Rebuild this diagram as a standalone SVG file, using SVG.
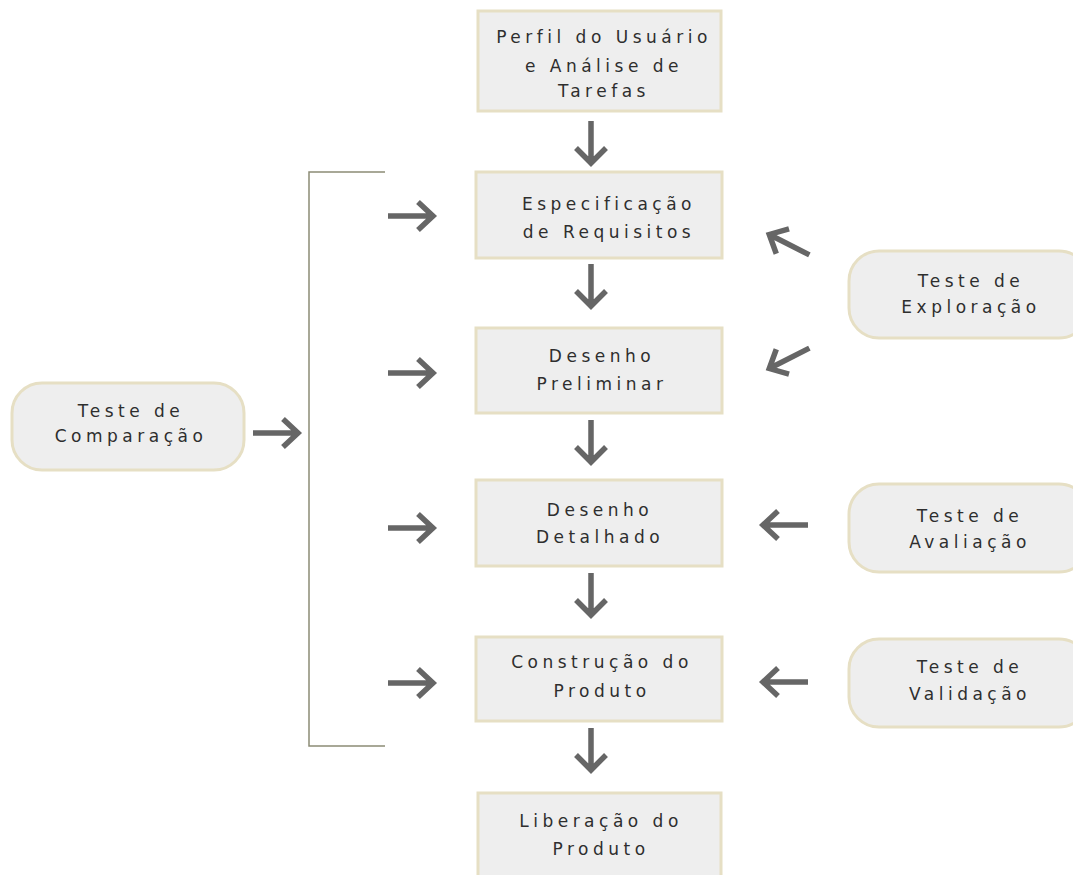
<svg xmlns="http://www.w3.org/2000/svg" width="1073" height="875" viewBox="0 0 1073 875">
<defs>
<style>
.box{fill:#eeeeee;stroke:#e6dfc4;stroke-width:3}
.t{font-family:"DejaVu Sans",sans-serif;font-size:17px;letter-spacing:4.5px;fill:#2e2e2e;text-anchor:middle}
.ar{fill:none;stroke:#666;stroke-width:5.5;stroke-linecap:butt;stroke-linejoin:miter}
.br{fill:none;stroke:#8c8c76;stroke-width:1.5}
</style>
<g id="arrowDown"><path class="ar" d="M0,-22 V20 M-15,5 L0,20 L15,5"/></g>
<g id="arrowRight"><path class="ar" d="M-24,0 H21 M6,-14 L21,0 L6,14"/></g>
<g id="arrowLeft"><path class="ar" d="M24,0 H-21 M-6,-14 L-21,0 L-6,14"/></g>
</defs>
<rect width="1073" height="875" fill="#ffffff"/>
<g id="n-perfil"><rect class="box" x="478" y="11" width="243" height="100"/>
<text class="t" x="604" y="43">Perfil do Usuário</text><text class="t" x="604" y="72">e Análise de</text><text class="t" x="604" y="97">Tarefas</text></g>
<g id="n-espec"><rect class="box" x="476" y="172" width="246" height="86"/>
<text class="t" x="609" y="210">Especificação</text><text class="t" x="609" y="238">de Requisitos</text></g>
<g id="n-prelim"><rect class="box" x="476" y="328" width="246" height="85"/>
<text class="t" x="602" y="362">Desenho</text><text class="t" x="602" y="390">Preliminar</text></g>
<g id="n-detal"><rect class="box" x="476" y="480" width="246" height="86"/>
<text class="t" x="600" y="516">Desenho</text><text class="t" x="600" y="543">Detalhado</text></g>
<g id="n-constr"><rect class="box" x="476" y="637" width="246" height="84"/>
<text class="t" x="602" y="668">Construção do</text><text class="t" x="602" y="697">Produto</text></g>
<g id="n-liber"><rect class="box" x="478" y="793" width="243" height="90"/>
<text class="t" x="601" y="827">Liberação do</text><text class="t" x="601" y="855">Produto</text></g>
<g id="n-comp"><rect class="box" x="12" y="383" width="232" height="87" rx="30"/>
<text class="t" x="131" y="417">Teste de</text><text class="t" x="131" y="442">Comparação</text></g>
<g id="n-explor"><rect class="box" x="849" y="251" width="240" height="87" rx="30"/>
<text class="t" x="971" y="287">Teste de</text><text class="t" x="971" y="313">Exploração</text></g>
<g id="n-aval"><rect class="box" x="849" y="484" width="240" height="88" rx="30"/>
<text class="t" x="970" y="522">Teste de</text><text class="t" x="970" y="548">Avaliação</text></g>
<g id="n-valid"><rect class="box" x="849" y="639" width="240" height="88" rx="30"/>
<text class="t" x="970" y="673">Teste de</text><text class="t" x="970" y="700">Validação</text></g>
<g id="connectors">
<path class="br" d="M385,172 H309 V746 H385"/>
<use href="#arrowDown" x="591" y="143"/>
<use href="#arrowDown" x="591" y="286"/>
<use href="#arrowDown" x="591" y="442"/>
<use href="#arrowDown" x="591" y="595"/>
<use href="#arrowDown" x="591" y="750"/>
<use href="#arrowRight" x="412" y="216"/>
<use href="#arrowRight" x="412" y="373"/>
<use href="#arrowRight" x="412" y="528"/>
<use href="#arrowRight" x="412" y="683"/>
<use href="#arrowRight" x="277" y="433"/>
<use href="#arrowLeft" x="784" y="525"/>
<use href="#arrowLeft" x="784" y="682"/>
<use href="#arrowLeft" transform="translate(788,244) rotate(27)"/>
<use href="#arrowLeft" transform="translate(788,359) rotate(-27)"/>
</g>
</svg>
